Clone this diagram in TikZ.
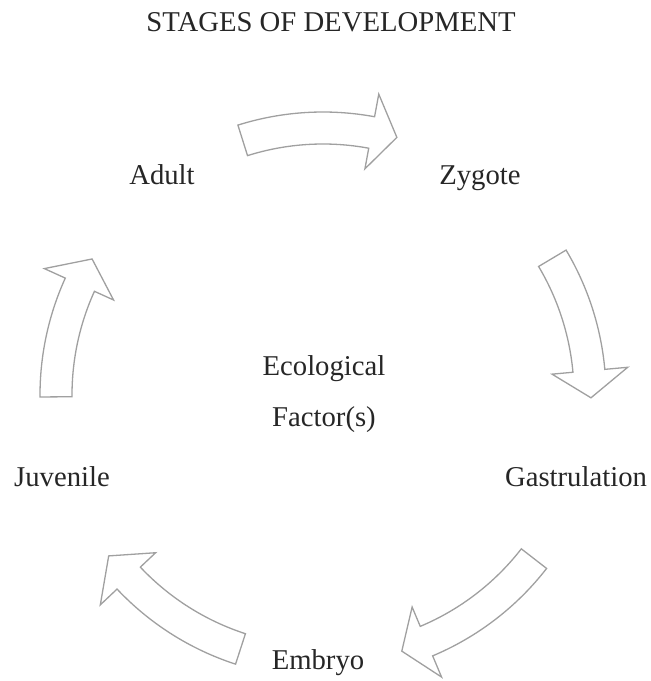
\documentclass[tikz,border=0pt]{standalone}
\usepackage{fontspec}
\setmainfont{Liberation Serif}
\usepackage{tikz}
\usepackage{xcolor}

\definecolor{arrowgray}{RGB}{160,160,160}
\definecolor{textdark}{RGB}{38,38,38}

\begin{document}
\begin{tikzpicture}[x=1pt, y=1pt,
    stage/.style={anchor=base, text=textdark, font=\fontsize{28.7}{34}\selectfont},
    cyclearrow/.style={draw=arrowgray, line width=1.3pt, fill=white, line join=miter}]
        \useasboundingbox (0,0) rectangle (651,681);
        \coordinate (C) at (323,286);

        \node[stage] (title) at (331,649) {STAGES OF DEVELOPMENT};

        \node[stage] (zygote) at (480,496) {Zygote};
        \node[stage] (gastrulation) at (576,194) {Gastrulation};
        \node[stage] (embryo) at (318,11) {Embryo};
        \node[stage] (juvenile) at (62,194) {Juvenile};
        \node[stage] (adult) at (162,496) {Adult};

        \node[stage] (ecological) at (324,305) {Ecological};
        \node[stage] (factors) at (324,254) {Factor(s)};

        \begin{scope}[shift={(C)}]
        % adult -> zygote
        \draw[cyclearrow] (107.5:283) arc[start angle=107.5, end angle=79.5, radius=283] -- (79.5:306) -- (74:268) -- (79.5:230) -- (79.5:251) arc[start angle=79.5, end angle=107.5, radius=251] -- cycle;
        % zygote -> gastrulation
        \draw[cyclearrow] (30.8:283) arc[start angle=30.8, end angle=5.2, radius=283] -- (5.2:306) -- (-0.6:268) -- (5.2:230) -- (5.2:251) arc[start angle=5.2, end angle=30.8, radius=251] -- cycle;
        % gastrulation -> embryo
        \draw[cyclearrow] (-37.8:283) arc[start angle=-37.8, end angle=-67.2, radius=283] -- (-67.2:306) -- (-72.9:268) -- (-67.2:230) -- (-67.2:251) arc[start angle=-67.2, end angle=-37.8, radius=251] -- cycle;
        % embryo -> juvenile
        \draw[cyclearrow] (252:283) arc[start angle=252, end angle=223.3, radius=283] -- (223.3:306) -- (216.9:268) -- (223.3:230) -- (223.3:251) arc[start angle=223.3, end angle=252, radius=251] -- cycle;
        % juvenile -> adult
        \draw[cyclearrow] (180.4:283) arc[start angle=180.4, end angle=155.6, radius=283] -- (155.6:306) -- (149.5:268) -- (155.6:230) -- (155.6:251) arc[start angle=155.6, end angle=180.4, radius=251] -- cycle;
        \end{scope}
    \end{tikzpicture}
\end{document}
